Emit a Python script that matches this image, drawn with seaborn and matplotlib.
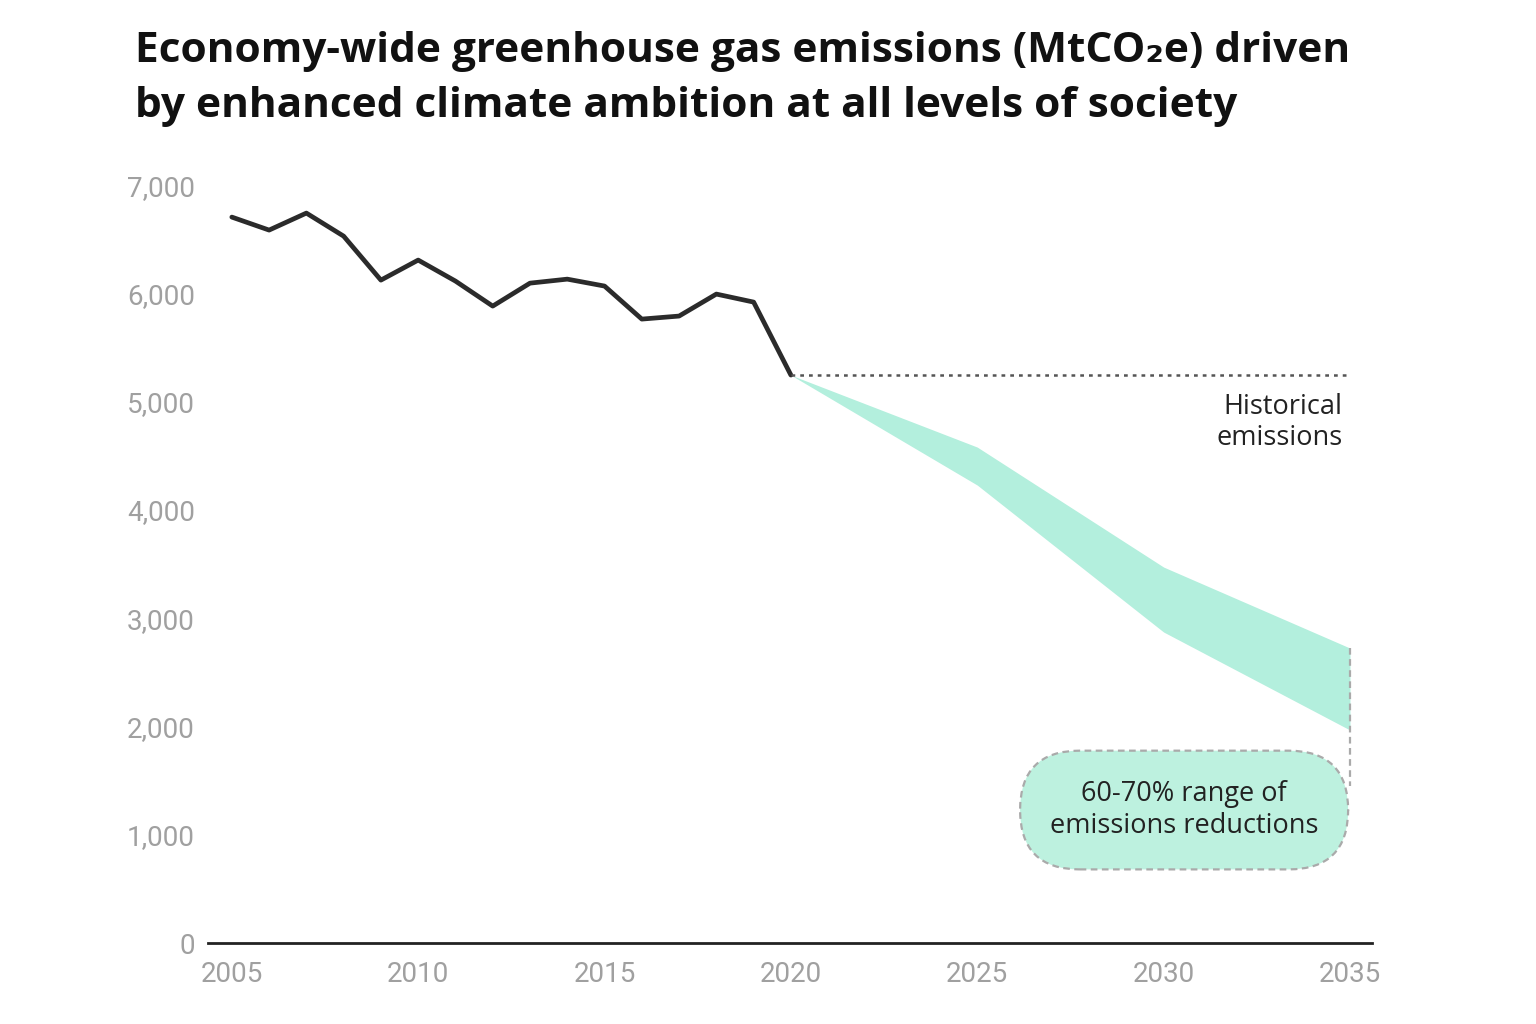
import numpy as np
import pandas as pd
import seaborn as sns
import matplotlib.pyplot as plt

# Data
hist_years = [2005, 2006, 2007, 2008, 2009, 2010, 2011, 2012, 2013, 2014,
              2015, 2016, 2017, 2018, 2019, 2020]
hist_values = [6704, 6584, 6741, 6528, 6122, 6307, 6113, 5882, 6094, 6131,
               6067, 5762, 5790, 5993, 5919, 5245]
proj_years = [2020, 2025, 2030, 2035]
proj_upper = [5245, 4580, 3472, 2724]
proj_lower = [5245, 4229, 2872, 1967]
y_ticks = [0, 1000, 2000, 3000, 4000, 5000, 6000, 7000]
x_ticks = [2005, 2010, 2015, 2020, 2025, 2030, 2035]

title = "Economy-wide greenhouse gas emissions (MtCO\u2082e) driven\nby enhanced climate ambition at all levels of society"

sns.set_theme(style="white")
plt.rcParams['font.family'] = ['Open Sans', 'DejaVu Sans']

fig = plt.figure(figsize=(15.36, 10.24), dpi=100)
ax = fig.add_axes([0.1354, 0.0791, 0.7578, 0.755])

hist = pd.DataFrame({'year': hist_years, 'value': hist_values})
sns.lineplot(data=hist, x='year', y='value', ax=ax, color='#2b2b2b', linewidth=3.4)

ax.fill_between(proj_years, proj_lower, proj_upper, color='#b3efdd', linewidth=0)

# dotted line of historical level
ax.plot([2020, 2035], [hist_values[-1], hist_values[-1]], color='#555555',
        linestyle=(0, (1.5, 2)), linewidth=1.8)
ax.text(2034.8, 4805, "Historical\nemissions", ha='right', va='center',
        fontsize=19.5, color='#222222', linespacing=1.15)

# dashed leader down to the box
ax.plot([2035, 2035], [proj_upper[-1], 1450], color='#aaaaaa',
        linestyle=(0, (3, 2)), linewidth=1.6)

ax.text(2030.55, 1228, "60-70% range of\nemissions reductions", ha='center', va='center',
        fontsize=19.5, color='#222222', linespacing=1.15,
        bbox=dict(boxstyle="round,pad=1.1,rounding_size=2.2", facecolor='#bdf1df',
                  edgecolor='#aaaaaa', linestyle=(0, (3, 2)), linewidth=1.6))

ax.set_xlim(2004.36, 2035.59)
ax.set_ylim(0, 7140)
ax.set_xticks(x_ticks)
ax.set_yticks(y_ticks)
ax.set_yticklabels([f"{v:,}" for v in y_ticks])
ax.set_xlabel('')
ax.set_ylabel('')
for lbl in ax.get_xticklabels() + ax.get_yticklabels():
    lbl.set_family(['Roboto', 'DejaVu Sans'])
    lbl.set_fontsize(20)
    lbl.set_color('#a0a0a0')
ax.tick_params(axis='both', length=0)
ax.tick_params(axis='y', pad=9.5)
ax.tick_params(axis='x', pad=13)

sns.despine(ax=ax, left=True)
ax.spines['bottom'].set_color('#222222')
ax.spines['bottom'].set_linewidth(2)

fig.text(0.088, 0.97, title, ha='left', va='top', fontsize=30.5,
         fontweight='bold', color='#111111', linespacing=1.45)

fig.savefig('out.png', dpi=100)
